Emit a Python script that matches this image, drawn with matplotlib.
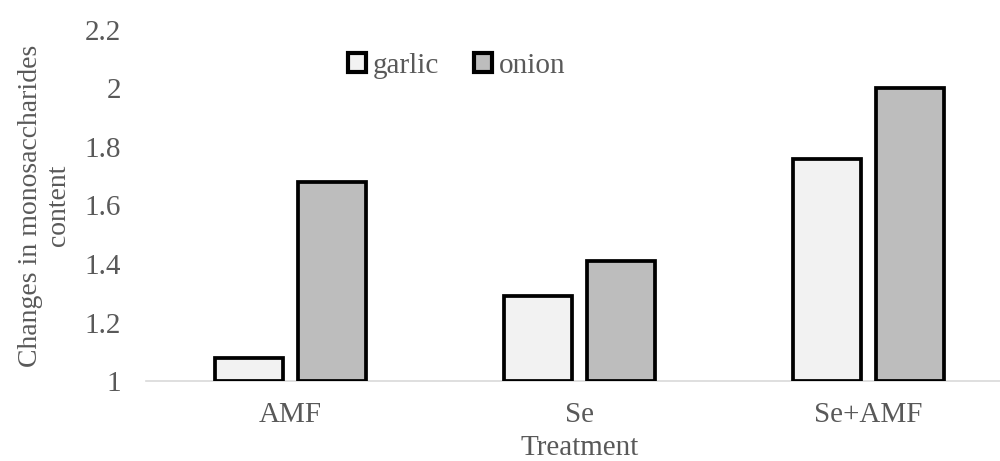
import numpy as np
import matplotlib.pyplot as plt
from matplotlib.patches import Patch

plt.rcParams['font.family'] = ['Liberation Serif', 'DejaVu Serif']

# Data
treatments = ['AMF', 'Se', 'Se+AMF']
garlic = [1.08, 1.29, 1.76]
onion = [1.68, 1.41, 2.00]

text_color = '#595959'
fs = 21
x = np.arange(len(treatments))
w = 0.235
off = 0.144

fig = plt.figure(figsize=(10, 4.61), dpi=100)
ax = fig.add_axes([0.146, 0.1735, 0.867, 0.7615])

ax.bar(x - off, np.array(garlic) - 1, w, bottom=1, color='#f2f2f2',
       edgecolor='black', linewidth=2.7, label='garlic', zorder=3)
ax.bar(x + off, np.array(onion) - 1, w, bottom=1, color='#bdbdbd',
       edgecolor='black', linewidth=2.7, label='onion', zorder=3)

ax.set_xlim(-0.5, 2.5)
ax.set_ylim(1, 2.2)
ax.set_yticks(np.arange(1, 2.21, 0.2))
ax.set_yticklabels(['1', '1.2', '1.4', '1.6', '1.8', '2', '2.2'])
ax.set_xticks(x)
ax.set_xticklabels(treatments)
ax.tick_params(axis='both', length=0, labelsize=fs, colors=text_color)
ax.tick_params(axis='y', pad=18)
ax.tick_params(axis='x', pad=15)

for s in ['top', 'right', 'left']:
    ax.spines[s].set_visible(False)
ax.spines['bottom'].set_color('#d9d9d9')
ax.spines['bottom'].set_linewidth(1.2)

ax.set_xlabel('Treatment', fontsize=fs, color=text_color, labelpad=5)
ax.set_ylabel('Changes in monosaccharides\ncontent', fontsize=20,
              color=text_color, labelpad=10, linespacing=1.15)

handles = [Patch(facecolor='#f2f2f2', edgecolor='black', linewidth=3),
           Patch(facecolor='#bdbdbd', edgecolor='black', linewidth=3)]
leg = fig.legend(handles, ['garlic', 'onion'], loc='center',
                 bbox_to_anchor=(0.457, 0.857), ncol=2, frameon=False,
                 fontsize=fs, handlelength=0.6, handleheight=0.6,
                 handletextpad=0.25, columnspacing=1.2)
for t in leg.get_texts():
    t.set_color(text_color)

fig.savefig('out.png', dpi=100)
